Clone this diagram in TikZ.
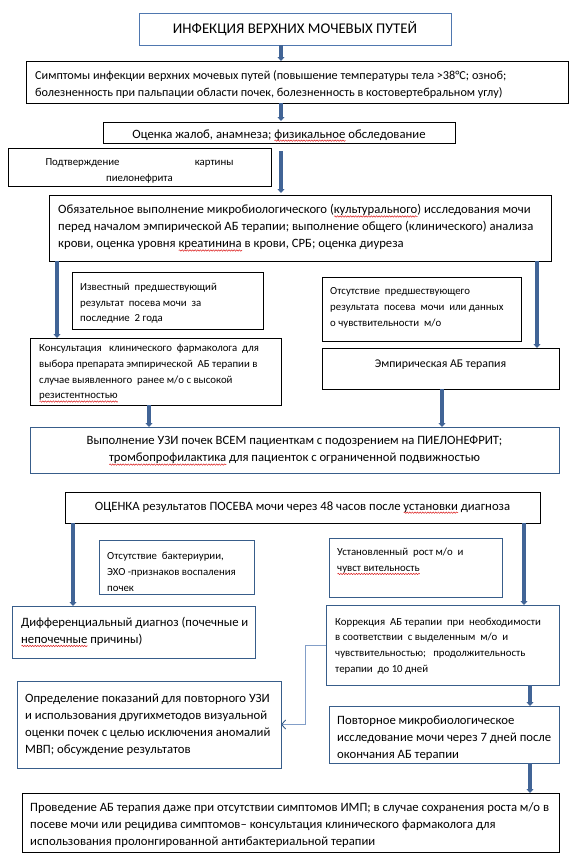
\documentclass[tikz,border=0pt]{standalone}
\usepackage{fontspec}
\setmainfont{Carlito}
\usetikzlibrary{arrows.meta,decorations.pathmorphing}
\definecolor{boxblue}{RGB}{56,93,138}
\definecolor{titleblue}{RGB}{79,119,175}
\definecolor{arrowblue}{RGB}{65,100,150}
\definecolor{thinblue}{RGB}{130,158,200}
\definecolor{sqred}{RGB}{220,30,30}
\newlength\sqw
\newcommand\sq[1]{\settowidth\sqw{#1}\leavevmode\rlap{\tikz[baseline=0pt]\draw[sqred,line width=0.5pt,decorate,decoration={snake,amplitude=0.7pt,segment length=2.6pt}] (0pt,-2.6pt) -- (\sqw,-2.6pt);}#1}
\begin{document}
\begin{tikzpicture}[x=1pt,y=-1pt,
  bx/.style={draw=black, line width=0.8pt, anchor=north west, inner sep=0pt, outer sep=0pt},
  bbx/.style={bx, draw=boxblue, line width=0.9pt},
  big/.style={font=\fontsize{12.7}{17}\selectfont, align=left, inner sep=0pt},
  sml/.style={font=\fontsize{10.8}{15.7}\selectfont, align=left, inner sep=0pt},
  thickarr/.style={draw=arrowblue, line width=3.2pt, -{Triangle[width=7pt,length=4pt]}},
  thinarr/.style={draw=thinblue, line width=0.9pt, -{Straight Barb[length=4pt,width=9pt,color=boxblue]}}
]
\useasboundingbox (0,0) rectangle (580,860);
% boxes
\node[bx, draw=titleblue, line width=0.9pt, minimum width=312pt, minimum height=32pt] (title) at (139,13) {};
\node[bx, minimum width=542pt, minimum height=42pt] (sym) at (26,61) {};
\node[bx, minimum width=352pt, minimum height=21pt] (ocen) at (103,122) {};
\node[bx, minimum width=263pt, minimum height=38pt] (podt) at (8,148) {};
\node[bx, minimum width=502pt, minimum height=66pt] (obyaz) at (49,195) {};
\node[bx, minimum width=191pt, minimum height=57pt] (izv) at (72,272) {};
\node[bx, minimum width=251pt, minimum height=67pt] (kons) at (30,338) {};
\node[bx, minimum width=199pt, minimum height=64pt] (otsut) at (322,277) {};
\node[bx, minimum width=237pt, minimum height=41pt] (emp) at (322,348) {};
\node[bbx, minimum width=529pt, minimum height=46pt] (uzi) at (30,427) {};
\node[bx, minimum width=475pt, minimum height=31pt] (ocenka) at (65,492) {};
\node[bbx, minimum width=155pt, minimum height=54pt] (bakt) at (99,540) {};
\node[bbx, minimum width=243pt, minimum height=52pt] (dif) at (12,606) {};
\node[bbx, minimum width=173pt, minimum height=59pt] (ustan) at (329,538) {};
\node[bbx, minimum width=233pt, minimum height=80pt] (korr) at (326,605) {};
\node[bbx, minimum width=230pt, minimum height=57pt] (povt) at (329,706) {};
\node[bbx, minimum width=264pt, minimum height=87pt] (opred) at (17,681) {};
\node[bx, minimum width=537pt, minimum height=59pt] (proved) at (22,793) {};
% texts
\node[big, font=\fontsize{14.8}{17}\selectfont] (titleT) at (title.center) {ИНФЕКЦИЯ ВЕРХНИХ МОЧЕВЫХ ПУТЕЙ};
\node[big, font=\fontsize{12.2}{17}\selectfont, anchor=west] (symT) at ([xshift=9pt,yshift=-3pt]sym.west) {Симптомы инфекции верхних мочевых путей (повышение температуры тела >38°С; озноб;\\болезненность при пальпации области почек, болезненность в костовертебральном углу)};
\node[big] (ocenT) at ([yshift=-3pt]ocen.center) {Оценка жалоб, анамнеза; \sq{физикальное} обследование};
\node[sml, align=center] (podtT) at ([yshift=-4pt]podt.center) {\makebox[188pt]{Подтверждение\hfill картины}\\пиелонефрита};
\node[big, anchor=west] (obyazT) at ([xshift=9pt]obyaz.west) {Обязательное выполнение микробиологического (\sq{культурального}) исследования мочи\\перед началом эмпирической АБ терапии; выполнение общего (клинического) анализа\\крови, оценка уровня \sq{креатинина} в крови, СРБ; оценка диуреза};
\node[sml, anchor=west] (izvT) at ([xshift=8pt,yshift=-3pt]izv.west) {Известный\ \ предшествующий\\результат\ \ посева мочи\ \ за\\последние\ \ 2 года};
\node[sml, anchor=west] (konsT) at ([xshift=9pt,yshift=-2pt]kons.west) {Консультация\ \ \ клинического\ \ фармаколога\ \ для\\выбора препарата эмпирической\ \ АБ терапии в\\случае выявленного\ \ ранее м/о с высокой\\\sq{резистентностью}};
\node[sml, anchor=west] (otsutT) at ([xshift=8pt,yshift=1pt]otsut.west) {Отсутствие\ \ предшествующего\\результата\ \ посева\ \ мочи\ \ или данных\\о чувствительности\ \ м/о};
\node[big, font=\fontsize{11.8}{17}\selectfont] (empT) at ([yshift=4pt]emp.center) {Эмпирическая АБ терапия};
\node[big, align=center] (uziT) at ([yshift=-1pt]uzi.center) {Выполнение УЗИ почек ВСЕМ пациенткам с подозрением на ПИЕЛОНЕФРИТ;\\\sq{тромбопрофилактика} для пациенток с ограниченной подвижностью};
\node[big] (ocenkaT) at (ocenka.center) {ОЦЕНКА результатов ПОСЕВА мочи через 48 часов после \sq{установки} диагноза};
\node[sml, anchor=west] (baktT) at ([xshift=8pt,yshift=-5pt]bakt.west) {Отсутствие\ \ бактериурии,\\ЭХО -признаков воспаления\\почек};
\node[big, anchor=west] (difT) at ([xshift=9pt]dif.west) {Дифференциальный диагноз (почечные и\\\sq{непочечные} причины)};
\node[sml, anchor=west] (ustanT) at ([xshift=8pt,yshift=6pt]ustan.west) {Установленный\ \ рост м/о\ \ и\\\sq{чувст вительность}};
\node[sml, anchor=west] (korrT) at ([xshift=9pt,yshift=-1pt]korr.west) {Коррекция\ \ АБ терапии\ \ при\ \ необходимости\\в соответствии\ \ с выделенным\ \ м/о\ \ и\\чувствительностью;\ \ \ продолжительность\\терапии\ \ до 10 дней};
\node[big, anchor=west] (povtT) at ([xshift=8pt,yshift=-4pt]povt.west) {Повторное микробиологическое\\исследование мочи через 7 дней после\\окончания АБ терапии};
\node[big, anchor=west] (opredT) at ([xshift=8pt]opred.west) {Определение показаний для повторного УЗИ\\и использования другихметодов визуальной\\оценки почек с целью исключения аномалий\\МВП; обсуждение результатов};
\node[big, anchor=west] (provedT) at ([xshift=8pt,yshift=-3pt]proved.west) {Проведение АБ терапия даже при отсутствии симптомов ИМП; в случае сохранения роста м/о в\\посеве мочи или рецидива симптомов– консультация клинического фармаколога для\\использования пролонгированной антибактериальной терапии};
% arrow columns
\coordinate (c1) at (281,0);
\coordinate (c2) at (57,0);
\coordinate (c3) at (537,0);
\coordinate (c4) at (149,0);
\coordinate (c5) at (442,0);
\coordinate (c6) at (73,0);
\coordinate (c7) at (524,0);
\coordinate (c8) at (530,0);
\coordinate (a3s) at (281,151);
\draw[thickarr] (title.south -| c1) -- (sym.north -| c1);
\draw[thickarr] (sym.south -| c1) -- ([yshift=1pt]ocen.north -| c1);
\draw[thickarr] (a3s) -- ([yshift=2pt]obyaz.north -| c1);
\draw[thickarr] (obyaz.south -| c2) -- (kons.north -| c2);
\draw[thickarr] (obyaz.south -| c3) -- (emp.north -| c3);
\draw[thickarr] (kons.south -| c4) -- (uzi.north -| c4);
\draw[thickarr] (emp.south -| c5) -- (uzi.north -| c5);
\draw[thickarr] (ocenka.south -| c6) -- (dif.north -| c6);
\draw[thickarr] (ocenka.south -| c7) -- (korr.north -| c7);
\draw[thickarr] (korr.south -| c8) -- (povt.north -| c8);
\draw[thickarr] (povt.south -| c8) -- (proved.north -| c8);
\coordinate (bend) at (305,0);
\draw[thinarr] (korr.west) -- (korr.west -| bend) |- (opred.east);
\end{tikzpicture}
\end{document}
